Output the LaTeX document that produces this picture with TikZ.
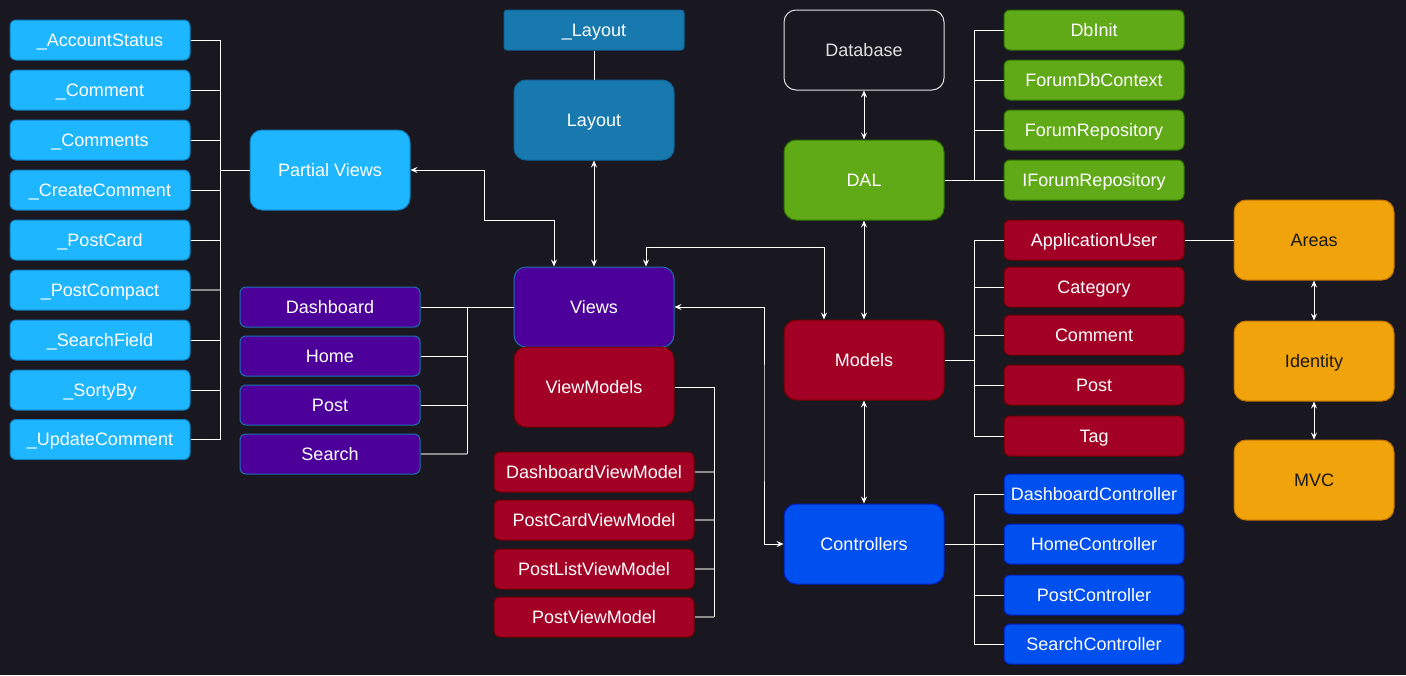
\documentclass[tikz,border=0pt]{standalone}
\usepackage{fontspec}
\setmainfont{Liberation Sans}
\usetikzlibrary{arrows.meta}
\definecolor{bg}{HTML}{19171F}
\definecolor{cyanf}{HTML}{1EB6FF}
\definecolor{cyand}{HTML}{1080C0}
\definecolor{layf}{HTML}{1779AD}
\definecolor{layd}{HTML}{10659A}
\definecolor{purf}{HTML}{4C0099}
\definecolor{purd}{HTML}{1C6FB5}
\definecolor{redf}{HTML}{A20025}
\definecolor{redd}{HTML}{6F0000}
\definecolor{grnf}{HTML}{60A917}
\definecolor{grnd}{HTML}{2D7600}
\definecolor{bluf}{HTML}{0050EF}
\definecolor{blud}{HTML}{001DBC}
\definecolor{orgf}{HTML}{F0A30A}
\definecolor{orgd}{HTML}{BD7000}
\definecolor{greyline}{HTML}{8C8C8C}
\tikzset{
  base/.style={draw, line width=1pt, inner sep=0pt, text=white,
    text height=15pt, text depth=2.1pt,
    font=\fontsize{18}{20}\selectfont},
  small/.style={base, rounded corners=6pt, minimum width=180pt, minimum height=40pt},
  wide/.style={base, rounded corners=6pt, minimum width=200pt, minimum height=40pt},
  big/.style={base, rounded corners=12pt, minimum width=160pt, minimum height=80pt},
  cy/.style={fill=cyanf, draw=cyand},
  ly/.style={fill=layf, draw=layd},
  pu/.style={fill=purf, draw=purd},
  rd/.style={fill=redf, draw=redd},
  gr/.style={fill=grnf, draw=grnd},
  bl/.style={fill=bluf, draw=blud},
  og/.style={fill=orgf, draw=orgd, text={black!90}},
  wire/.style={draw=white, line width=1pt},
  gwire/.style={draw=greyline, line width=1.3pt},
  arr/.style={wire, {Stealth[length=7pt,width=6pt,inset=2.5pt]}-{Stealth[length=7pt,width=6pt,inset=2.5pt]}},
}
\begin{document}
\begin{tikzpicture}[x=1pt,y=-1pt]
\fill[bg] (0,0) rectangle (1406,675);
\useasboundingbox (0,0) rectangle (1406,675);

% partial views list
\node[small,cy] (acc) at (100,40) {\_AccountStatus};
\node[small,cy] (com) at (100,90) {\_Comment};
\node[small,cy] (coms) at (100,140) {\_Comments};
\node[small,cy] (ccom) at (100,190) {\_CreateComment};
\node[small,cy] (pcard) at (100,240) {\_PostCard};
\node[small,cy] (pcomp) at (100,290) {\_PostCompact};
\node[small,cy] (sfield) at (100,340) {\_SearchField};
\node[small,cy] (sorty) at (100,390) {\_SortyBy};
\node[small,cy] (ucom) at (100,439.5) {\_UpdateComment};
\node[big,cy] (pv) at (330,170) {Partial Views};

% layout
\node[small,ly,rounded corners=3pt] (ulay) at (594,30) {\_Layout};
\node[big,ly] (lay) at (594,120) {Layout};

% views
\node[big,pu] (views) at (594,307) {Views};
\node[big,rd] (vm) at (594,387) {ViewModels};
\node[small,pu] (vdash) at (330,307) {Dashboard};
\node[small,pu] (vhome) at (330,356) {Home};
\node[small,pu] (vpost) at (330,405) {Post};
\node[small,pu] (vsearch) at (330,454) {Search};

% view models
\node[wide,rd] (dvm) at (594,472) {DashboardViewModel};
\node[wide,rd] (pcvm) at (594,520) {PostCardViewModel};
\node[wide,rd] (plvm) at (594,569) {PostListViewModel};
\node[wide,rd] (pvm) at (594,617) {PostViewModel};

% centre column
\node[big,draw={white!88!black},text={white!88!black}] (db) at (864,50) {Database};
\node[big,gr] (dal) at (864,180) {DAL};
\node[big,rd] (models) at (864,360) {Models};
\node[big,bl] (ctrl) at (864,544) {Controllers};

% DAL list
\node[small,gr] (dbinit) at (1094,30) {DbInit};
\node[small,gr] (fdbc) at (1094,80) {ForumDbContext};
\node[small,gr] (frep) at (1094,130) {ForumRepository};
\node[small,gr] (ifrep) at (1094,180) {IForumRepository};

% Models list
\node[small,rd] (appu) at (1094,240) {ApplicationUser};
\node[small,rd] (cat) at (1094,287) {Category};
\node[small,rd] (mcom) at (1094,335) {Comment};
\node[small,rd] (mpost) at (1094,385) {Post};
\node[small,rd] (tag) at (1094,436) {Tag};

% Controllers list
\node[small,bl] (dctrl) at (1094,494) {DashboardController};
\node[small,bl] (hctrl) at (1094,544) {HomeController};
\node[small,bl] (pctrl) at (1094,595) {PostController};
\node[small,bl] (sctrl) at (1094,644) {SearchController};

% Areas
\node[big,og] (areas) at (1314,240) {Areas};
\node[big,og] (ident) at (1314,361) {Identity};
\node[big,og] (mvc) at (1314,480) {MVC};

% bus coordinates
\coordinate (pvbus) at (220,170);
\coordinate (vbus) at (467,307);
\coordinate (vmbus) at (714,387);
\coordinate (dalbus) at (974,180);
\coordinate (mbus) at (974,360);
\coordinate (cbus) at (974,544);

% partial views tree
\foreach \n in {acc,com,coms,ccom,pcard,sfield,sorty,ucom}{
  \draw[wire] (\n.east) -| (pvbus);
}
\draw[gwire] (pcomp.east) -- (pcomp.east -| pvbus);
\draw[wire] (pvbus) -- (pv.west);

% layout
\draw[wire] (ulay.south) -- (lay.north);

% views tree
\draw[wire] (vdash.east) -- (views.west);
\draw[wire] (vhome.east) -| (vbus);
\draw[wire] (vpost.east) -| (vbus);
\draw[wire] (vbus) -- (vsearch.east -| vbus);
\draw[gwire] (vsearch.east) -- (vsearch.east -| vbus);

% view models tree
\draw[wire] (vm.east) -| (pvm.east -| vmbus);
\foreach \n in {dvm,pcvm,plvm,pvm}{
  \draw[gwire] (\n.east) -- (\n.east -| vmbus);
}

% DAL tree
\foreach \n in {dbinit,fdbc,frep,ifrep}{
  \draw[wire] (\n.west) -| (dalbus);
}
\draw[wire] (dal.east) -- (dalbus);

% models tree
\foreach \n in {appu,cat,mcom,mpost,tag}{
  \draw[wire] (\n.west) -| (mbus);
}
\draw[wire] (models.east) -- (mbus);

% controllers tree
\foreach \n in {dctrl,hctrl,pctrl,sctrl}{
  \draw[wire] (\n.west) -| (cbus);
}
\draw[wire] (ctrl.east) -- (cbus);

\draw[wire] (appu.east) -- (areas.west);

% arrows
\coordinate (c1) at (484,220);
\coordinate (c2) at (824,247);
\coordinate (c3) at (764,420);
\draw[arr] (pv.east) -| (c1) -| ([xshift=-40pt]views.north);
\draw[arr] (lay.south) -- (views.north);
\draw[arr] ([xshift=52pt]views.north) |- (c2) -- ([xshift=-40pt]models.north);
\draw[arr] (views.east) -| (c3) |- (ctrl.west);
\draw[arr] (db.south) -- (dal.north);
\draw[arr] (dal.south) -- (models.north);
\draw[arr] (models.south) -- (ctrl.north);
\draw[arr] (areas.south) -- (ident.north);
\draw[arr] (ident.south) -- (mvc.north);
\end{tikzpicture}
\end{document}
